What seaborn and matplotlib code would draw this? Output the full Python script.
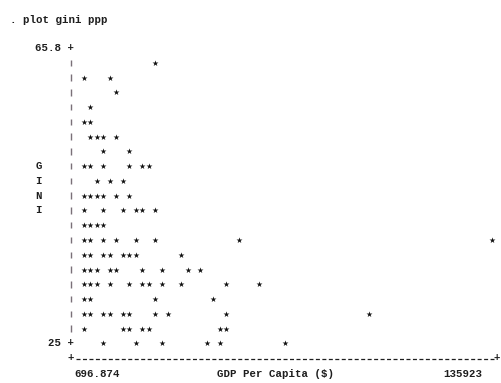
import matplotlib
matplotlib.use("Agg")
import matplotlib.pyplot as plt
import seaborn as sns
import pandas as pd

# Gini index against GDP per capita (PPP), one entry per country,
# listed from the highest Gini row down to the lowest.
gini = [
    63.76,
    61.72, 61.72,
    59.68,
    57.64,
    55.60, 55.60,
    53.56, 53.56, 53.56, 53.56,
    51.52, 51.52,
    49.48, 49.48, 49.48, 49.48, 49.48, 49.48,
    47.44, 47.44, 47.44,
    45.40, 45.40, 45.40, 45.40, 45.40, 45.40,
    43.36, 43.36, 43.36, 43.36, 43.36, 43.36,
    41.32, 41.32, 41.32, 41.32,
    39.28, 39.28, 39.28, 39.28, 39.28, 39.28, 39.28, 39.28,
    37.24, 37.24, 37.24, 37.24, 37.24, 37.24, 37.24, 37.24,
    35.20, 35.20, 35.20, 35.20, 35.20, 35.20, 35.20, 35.20, 35.20,
    33.16, 33.16, 33.16, 33.16, 33.16, 33.16, 33.16, 33.16, 33.16, 33.16, 33.16,
    31.12, 31.12, 31.12, 31.12,
    29.08, 29.08, 29.08, 29.08, 29.08, 29.08, 29.08, 29.08, 29.08, 29.08,
    27.04, 27.04, 27.04, 27.04, 27.04, 27.04, 27.04,
    25.00, 25.00, 25.00, 25.00, 25.00, 25.00,
]
gdp = [
    24308,
    697, 9283,
    11429,
    2843,
    697, 2843,
    2843, 4990, 7136, 11429,
    7136, 15722,
    697, 2843, 7136, 15722, 20015, 22161,
    4990, 9283, 13576,
    697, 2843, 4990, 7136, 11429, 15722,
    697, 7136, 13576, 17868, 20015, 24308,
    697, 2843, 4990, 7136,
    697, 2843, 7136, 11429, 17868, 24308, 52212, 135923,
    697, 2843, 7136, 9283, 13576, 15722, 17868, 32894,
    697, 2843, 4990, 9283, 11429, 20015, 26454, 35040, 39333,
    697, 2843, 4990, 9283, 15722, 20015, 22161, 26454, 32894, 47919, 58651,
    697, 2843, 24308, 43626,
    697, 2843, 7136, 9283, 13576, 15722, 24308, 28601, 47919, 95141,
    697, 13576, 15722, 20015, 22161, 45772, 47919,
    7136, 17868, 26454, 41479, 45772, 67237,
]

x_lo, x_hi = 696.874, 135923
y_lo, y_hi = 25, 65.8
x_labels = ["696.874", "135923"]
y_labels = ["65.8", "25"]
x_title = "GDP Per Capita ($)"
y_title = "GINI"
command = ". plot gini ppp"

# character-cell layout of the text-mode plot
W, H = 501, 383
NCOLS, NROWS = 63, 20
CW, RH = 6.47, 14.77
X0, Y0 = 84, 48

x_step = (x_hi - x_lo) / NCOLS
y_step = (y_hi - y_lo) / NROWS


def cx(c):
    return x_lo + c * x_step


def ry(r):
    return y_hi - r * y_step


sns.set_theme(style="white")
plt.rcParams["font.family"] = ["Liberation Mono", "DejaVu Sans Mono"]
FS = CW / 0.6 * 72 / 100
INK = "#1e1e1e"

fig = plt.figure(figsize=(W / 100, H / 100), dpi=100)
ax = fig.add_axes([0, 0, 1, 1])

df = pd.DataFrame({"gdp": gdp, "gini": gini})
sns.scatterplot(data=df, x="gdp", y="gini", marker="*", s=20,
                color="#111111", linewidth=0, legend=False, ax=ax)

ax.set_xlim(cx(-X0 / CW), cx((W - X0) / CW))
ax.set_ylim(ry((H - Y0) / RH), ry(-Y0 / RH))
ax.set_axis_off()

txt = dict(fontsize=FS, color=INK, va="center", fontweight="bold")

ax.text(cx(-11.5), ry(-1.9), command, ha="left", **txt)
ax.text(cx(-7.5), ry(0), f"{y_labels[0]} +", ha="left", **txt)
ax.text(cx(-5.5), ry(NROWS), f"{y_labels[1]} +", ha="left", **txt)

# left rail of the text plot
for r in range(1, NROWS):
    ax.plot([cx(-2), cx(-2)], [ry(r + 0.22), ry(r - 0.22)],
            color="#7a7078", lw=1.0, solid_capstyle="butt")

for i, ch in enumerate(y_title):
    ax.text(cx(-7), ry(8 + i), ch, ha="center", **txt)

# bottom rail: one dash per character cell between two corner marks
px_pt = 72 / 100
lw = 0.9
dash_on, dash_off = 4.0 * px_pt / lw, (CW - 4.0) * px_pt / lw
half = 2.0 / CW
ax.plot([cx(-1 - half), cx(63 + half)], [ry(21.05), ry(21.05)],
        color=INK, lw=lw, linestyle=(0, (dash_on, dash_off)))
ax.text(cx(-2), ry(21), "+", ha="center", **txt)
ax.text(cx(63.85), ry(21), "+", ha="center", **txt)

ax.text(cx(-1.5), ry(22.07), x_labels[0], ha="left", **txt)
ax.text(cx(20.5), ry(22.07), x_title, ha="left", **txt)
ax.text(cx(55.5), ry(22.07), x_labels[1], ha="left", **txt)

fig.savefig("out.png", dpi=100, facecolor="white")
